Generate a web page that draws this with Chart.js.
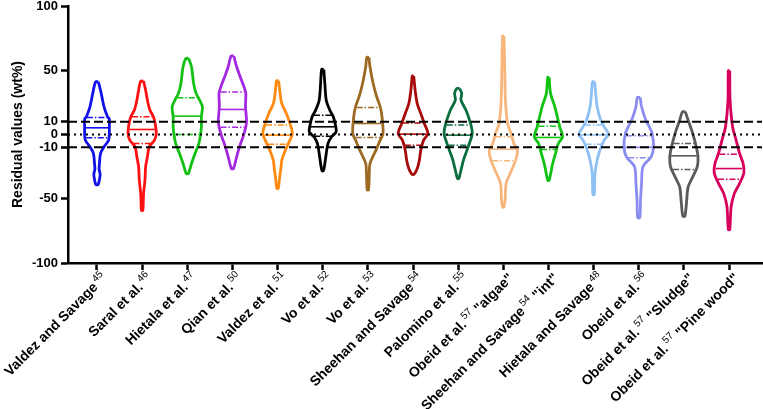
<!DOCTYPE html>
<html>
<head>
<meta charset="utf-8">
<script src="https://cdn.jsdelivr.net/npm/chart.js@4.4.1/dist/chart.umd.min.js"></script>
<style>
  html, body { margin: 0; padding: 0; background: #fff; }
  canvas { display: block; background: #fff; }
</style>
</head>
<body>
<canvas id="chart" width="763" height="409"></canvas>
<script>
// category labels: name, reference number (superscript), trailing text
const labelNames = [
  "Valdez and Savage", "Saral et al.", "Hietala et al.", "Qian et al.", "Valdez et al.",
  "Vo et al.", "Vo et al.", "Sheehan and Savage", "Palomino et al.", "Obeid et al.",
  "Sheehan and Savage", "Hietala and Savage", "Obeid et al.", "Obeid et al.", "Obeid et al.",
];
const labelRefs = ["45", "46", "47", "50", "51", "52", "53", "54", "55", "57", "54", "48", "56", "57", "57"];
const labelSuffix = ["", "", "", "", "", "", "", "", "", " \"algae\"", " \"int\"", "", "", " \"Sludge\"", " \"Pine wood\""];

const colors = [
  "#1212e8", "#ff1010", "#14c014", "#a428e0", "#ff8a10",
  "#000000", "#9c6a22", "#a80a0a", "#0a6e3e", "#f6b67c",
  "#12c212", "#8ec0f4", "#8a8cf0", "#5a5a5a", "#d6005c",
];

// density profiles: [residual value, relative width]
const profiles = [
  [[41, 4], [32, 12], [21.5, 20], [13.8, 30], [12, 35], [6, 35], [0.8, 35], [-4.4, 33], [-9.6, 20], [-14.8, 10], [-22.6, 7], [-27, 6], [-31, 9], [-35, 7], [-39, 3]],
  [[41.5, 4], [34.5, 10], [26.7, 15], [19, 22], [13.8, 32], [8.6, 37], [0.8, 40], [-4.4, 35], [-9.6, 20], [-17.4, 15], [-25, 10], [-35.6, 8], [-46, 4], [-59, 2]],
  [[59.2, 4], [52.7, 12], [39.7, 18], [32, 25], [26.7, 35], [21.6, 43], [13.8, 40], [6, 40], [0.8, 38], [-7, 33], [-14.8, 22], [-22.6, 12], [-30.4, 3]],
  [[61, 4], [52.7, 12], [45, 22], [37, 33], [32, 38], [21.6, 37], [11.2, 40], [6, 38], [-1.8, 30], [-9.6, 20], [-17.4, 12], [-26.5, 3]],
  [[41.8, 3], [34.5, 6], [24, 12], [16.4, 25], [8.6, 35], [0.8, 42], [-4.4, 35], [-12.2, 22], [-20, 12], [-25, 10], [-33, 6], [-42, 2]],
  [[50.6, 3], [39.7, 6], [26.7, 10], [19, 20], [13.8, 30], [8.6, 35], [2, 38], [-1.8, 25], [-7, 15], [-14.8, 10], [-22.6, 6], [-28.3, 2]],
  [[60, 3], [52.7, 6], [39.7, 15], [29.4, 25], [21.6, 35], [13.8, 40], [0.8, 43], [-4.4, 35], [-12.2, 23], [-22.6, 6], [-30, 4], [-43, 2]],
  [[45.5, 2], [34.5, 6], [24, 12], [16.4, 22], [8.6, 32], [0.8, 42], [-4.4, 30], [-12.2, 22], [-20, 18], [-26.5, 12], [-31, 3]],
  [[35.8, 4], [32, 10], [26.7, 8], [19, 22], [8.6, 35], [0.8, 40], [-4.4, 35], [-12.2, 25], [-20, 15], [-27.8, 8], [-34.3, 2]],
  [[76.6, 2], [52.7, 4], [26.7, 6], [8.6, 12], [0.8, 22], [-7, 30], [-12.2, 40], [-20, 35], [-30, 20], [-38, 8], [-51, 5], [-56.4, 2]],
  [[44.4, 2], [32, 6], [21.6, 18], [13.8, 25], [6, 32], [-1.8, 40], [-7, 28], [-14.8, 20], [-22.6, 12], [-35.6, 2]],
  [[41, 3], [32, 6], [21.6, 10], [11.2, 20], [6, 30], [0, 42], [-4.4, 30], [-12.2, 18], [-20, 10], [-30, 4], [-46.8, 2]],
  [[28.8, 4], [21.6, 8], [11.2, 20], [6, 30], [0.8, 38], [-9.6, 42], [-17.4, 35], [-25, 12], [-38, 8], [-51, 5], [-64.7, 3]],
  [[17.7, 4], [11.2, 12], [0.8, 25], [-9.6, 35], [-17.4, 40], [-25, 38], [-33, 25], [-40.8, 12], [-51, 8], [-63.6, 3]],
  [[49.6, 2], [26.7, 3], [6, 10], [-4.4, 20], [-14.8, 30], [-22.6, 40], [-30, 42], [-38, 30], [-46, 15], [-56, 6], [-74, 2]],
];

const medians = [5.2, 3.9, 14.3, 19.5, -0.5, 6, 8.6, 0.3, -0.5, -11.4, -2.3, -0.3, -10, -16.6, -26.5];
const upperQuartiles = [13.2, 13.8, 28.6, 33, 7.3, 15, 21, 9, 7.3, -1.8, 6.5, 7.3, -1, -7, -15.3];
const lowerQuartiles = [-2.6, -7, 0, 5.7, -7.5, -1.3, -2.3, -8.3, -8.3, -20.5, -11.7, -7.5, -18, -27.3, -34.8];

const yTicks = [100, 50, 10, 0, -10, -50, -100];
const limitLines = [10, -10];
const zeroLine = 0;

const FONT = "'Liberation Sans', Arial, Helvetica, sans-serif";
const widthScale = 1 / 128;
const xMin = -0.642;
const xMax = 14.73;

function halfWidthAt(profile, y) {
  for (let k = 0; k < profile.length - 1; k++) {
    const [y0, d0] = profile[k];
    const [y1, d1] = profile[k + 1];
    if (y <= y0 && y >= y1) {
      const t = (y0 - y) / (y0 - y1);
      return (d0 + t * (d1 - d0)) * widthScale;
    }
  }
  return 0;
}

const datasets = [];

// reference lines on top
limitLines.forEach((v) => {
  datasets.push({
    data: [{ x: xMin, y: v }, { x: xMax, y: v }],
    borderColor: "#000",
    borderWidth: 2,
    borderDash: [9, 4],
  });
});
datasets.push({
  data: [{ x: xMin, y: zeroLine }, { x: xMax, y: zeroLine }],
  borderColor: "#000",
  borderWidth: 2,
  borderDash: [2, 4],
});

profiles.forEach((profile, i) => {
  const right = profile.map(([y, d]) => ({ x: i + d * widthScale, y: y }));
  const left = profile.slice().reverse().map(([y, d]) => ({ x: i - d * widthScale, y: y }));
  const outline = right.concat(left);
  outline.push(right[0]);
  datasets.push({
    data: outline,
    borderColor: colors[i],
    borderWidth: 2.8,
    tension: 0.3,
  });

  const med = halfWidthAt(profile, medians[i]) * 0.92;
  datasets.push({
    data: [{ x: i - med, y: medians[i] }, { x: i + med, y: medians[i] }],
    borderColor: colors[i],
    borderWidth: 1.6,
  });

  [upperQuartiles[i], lowerQuartiles[i]].forEach((q) => {
    const w = halfWidthAt(profile, q) * 0.9;
    datasets.push({
      data: [{ x: i - w, y: q }, { x: i + w, y: q }],
      borderColor: colors[i],
      borderWidth: 1.5,
      borderDash: [6, 2, 1.5, 2],
    });
  });
});

// x tick labels with superscript reference numbers
const categoryLabels = {
  id: "categoryLabels",
  afterDraw(chart) {
    const c = chart.ctx;
    const xs = chart.scales.x;
    const mainFont = "bold 14px " + FONT;
    const supFont = "10px " + FONT;
    labelNames.forEach((name, i) => {
      const px = xs.getPixelForValue(i);
      c.save();
      c.translate(px + 3, xs.top + 8);
      c.rotate(-Math.PI / 4);
      c.fillStyle = "#000";
      c.textBaseline = "alphabetic";
      c.textAlign = "left";
      c.font = mainFont;
      const wName = c.measureText(name).width;
      const wSuffix = c.measureText(labelSuffix[i]).width;
      c.font = supFont;
      const wRef = c.measureText(labelRefs[i]).width + 2;
      let x = -(wName + wRef + wSuffix);
      c.font = mainFont;
      c.fillText(name, x, 11);
      x += wName + 2;
      c.font = supFont;
      c.fillText(labelRefs[i], x, 5);
      x += wRef - 2;
      c.font = mainFont;
      c.fillText(labelSuffix[i], x, 11);
      c.restore();
    });
  },
};

const ctx = document.getElementById("chart").getContext("2d");
const chart = new Chart(ctx, {
  type: "scatter",
  data: { datasets: datasets },
  plugins: [categoryLabels],
  options: {
    responsive: false,
    animation: false,
    devicePixelRatio: 1,
    showLine: true,
    layout: { padding: { top: 6, right: 1, left: 0, bottom: 0 } },
    elements: {
      point: { radius: 0, hoverRadius: 0 },
      line: { fill: false, borderCapStyle: "butt" },
    },
    plugins: {
      legend: { display: false },
      tooltip: { enabled: false },
    },
    scales: {
      x: {
        type: "linear",
        min: xMin,
        max: xMax,
        afterBuildTicks: (scale) => {
          scale.ticks = labelNames.map((_, i) => ({ value: i }));
        },
        afterFit: (scale) => {
          scale.height = 146;
          scale.paddingLeft = 0;
          scale.paddingRight = 0;
        },
        ticks: { display: false },
        grid: {
          drawOnChartArea: false,
          tickLength: 7,
          tickColor: "#000",
          tickWidth: 2.5,
        },
        border: { color: "#000", width: 2.5 },
      },
      y: {
        type: "linear",
        min: -100,
        max: 100,
        afterBuildTicks: (scale) => {
          scale.ticks = yTicks.map((v) => ({ value: v }));
        },
        afterFit: (scale) => {
          scale.width = 68;
          scale.paddingTop = 0;
          scale.paddingBottom = 0;
        },
        ticks: {
          padding: 3,
          color: "#000",
          font: { family: FONT, size: 13, weight: "bold" },
        },
        grid: {
          drawOnChartArea: false,
          tickLength: 7,
          tickColor: "#000",
          tickWidth: 2.5,
        },
        border: { color: "#000", width: 2.5 },
        title: {
          display: true,
          text: "Residual values (wt%)",
          color: "#000",
          padding: { top: 10, bottom: 0 },
          font: { family: FONT, size: 14, weight: "bold" },
        },
      },
    },
  },
});
</script>
</body>
</html>
